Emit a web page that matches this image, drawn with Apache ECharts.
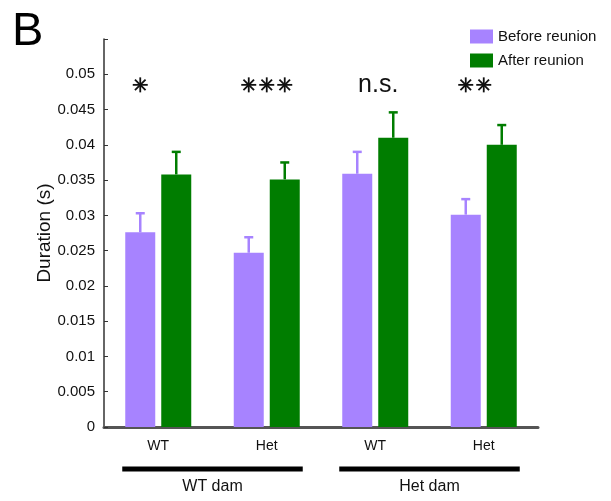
<!DOCTYPE html>
<html><head><meta charset="utf-8">
<script src="https://cdn.jsdelivr.net/npm/echarts@6/dist/echarts.min.js"></script>
<style>html,body{margin:0;padding:0;background:#fff}#c{width:611px;height:501px}</style>
</head><body><div id="c"></div>
<script>
const categories = ['WT', 'Het', 'WT', 'Het'];
const groups = ['WT dam', 'Het dam'];
const beforeMean = [0.0276, 0.0247, 0.0359, 0.0301];
const beforeErrTop = [0.0303, 0.0269, 0.0390, 0.0323];
const afterMean = [0.0358, 0.0351, 0.0410, 0.0400];
const afterErrTop = [0.0390, 0.0375, 0.0446, 0.0428];
const sigLabels = ['*', '***', 'n.s.', '**'];
const sigY = 0.0485;

const PURPLE = '#a783ff', GREEN = '#007d00';
const FONT = 'Liberation Sans, Arial, sans-serif';
const sigShift = [-18, 0, 3, -9];
const chart = echarts.init(document.getElementById('c'));

function errSeries(name, tops, means, color, side) {
  return {
    type: 'custom', name: name + ' err', silent: true, z: 3,
    data: tops.map((t, i) => [i, means[i], t]),
    renderItem: function (params, api) {
      const i = api.value(0);
      const p0 = api.coord([i, api.value(1)]);
      const p1 = api.coord([i, api.value(2)]);
      const x = p0[0] + side * 18;
      return {
        type: 'group', children: [
          { type: 'line', shape: { x1: x, y1: p0[1], x2: x, y2: p1[1] }, style: { stroke: color, lineWidth: 2.5 } },
          { type: 'line', shape: { x1: x - 4.5, y1: p1[1], x2: x + 4.5, y2: p1[1] }, style: { stroke: color, lineWidth: 2.5 } }
        ]
      };
    }
  };
}

function star(cx, cy, r) {
  const segs = [];
  for (let k = 0; k < 4; k++) {
    const a = k * Math.PI / 4;
    const dx = r * Math.cos(a), dy = r * Math.sin(a);
    segs.push({ type: 'line', shape: { x1: cx - dx, y1: cy - dy, x2: cx + dx, y2: cy + dy }, style: { stroke: '#111', lineWidth: 1.8 } });
  }
  return segs;
}

const option = {
  animation: false,
  grid: { left: 104, right: 73, top: 39, bottom: 74 },
  legend: {
    orient: 'vertical', left: 465, top: 24, itemWidth: 23, itemHeight: 14, itemGap: 9,
    data: ['Before reunion', 'After reunion'],
    textStyle: { fontFamily: FONT, fontSize: 15, color: '#111' }, icon: 'rect'
  },
  xAxis: {
    type: 'category', data: categories,
    axisLine: { lineStyle: { color: '#555', width: 3 } },
    axisTick: { alignWithLabel: true, inside: true, length: 4, lineStyle: { color: '#222', width: 1 } },
    axisLabel: { fontFamily: FONT, fontSize: 14, color: '#111', margin: 12 }
  },
  yAxis: {
    type: 'value', min: 0, max: 0.055, interval: 0.005,
    name: 'Duration (s)', nameLocation: 'middle', nameGap: 50, nameMoveOverlap: false,
    nameTextStyle: { fontFamily: FONT, fontSize: 19, color: '#111' },
    axisLine: { show: true, lineStyle: { color: '#333', width: 1.5 } },
    axisTick: { show: true, inside: true, length: 4, lineStyle: { color: '#333' } },
    splitLine: { show: false },
    axisLabel: {
      fontFamily: FONT, fontSize: 15, color: '#111', margin: 9,
      formatter: v => (Math.abs(v - 0.055) < 1e-9 ? '' : String(parseFloat(v.toFixed(3))))
    }
  },
  series: [
    { type: 'bar', name: 'Before reunion', data: beforeMean, barWidth: 30, barGap: '20%', itemStyle: { color: PURPLE } },
    { type: 'bar', name: 'After reunion', data: afterMean, barWidth: 30, itemStyle: { color: GREEN } },
    errSeries('Before reunion', beforeErrTop, beforeMean, PURPLE, -1),
    errSeries('After reunion', afterErrTop, afterMean, GREEN, 1),
    {
      type: 'custom', silent: true, z: 5,
      data: sigLabels.map((s, i) => [i, sigY]),
      renderItem: function (params, api) {
        const i = params.dataIndex;
        const p = api.coord([api.value(0), api.value(1)]);
        const cx = p[0] + sigShift[i], cy = p[1];
        const s = sigLabels[i];
        if (/^\*+$/.test(s)) {
          const n = s.length, sp = 18;
          let children = [];
          for (let k = 0; k < n; k++) children = children.concat(star(cx + (k - (n - 1) / 2) * sp, cy, 7.5));
          return { type: 'group', children };
        }
        return { type: 'text', x: cx, y: cy, style: { text: s, font: '25px Liberation Sans, Arial, sans-serif', fill: '#111', textAlign: 'center', textVerticalAlign: 'middle' } };
      }
    }
  ],
  graphic: [
    { type: 'text', left: 12, top: 9, style: { text: 'B', font: '47px Liberation Sans, Arial, sans-serif', fill: '#000' } }
  ]
};
chart.setOption(option);

// group brackets from axis scale
const g = [];
[[0, 1], [2, 3]].forEach((pair, k) => {
  const a = chart.convertToPixel({ xAxisIndex: 0 }, pair[0]);
  const b = chart.convertToPixel({ xAxisIndex: 0 }, pair[1]);
  const half = 36;
  g.push({ type: 'line', shape: { x1: a - half, y1: 469, x2: b + half, y2: 469 }, style: { stroke: '#000', lineWidth: 5 } });
  g.push({ type: 'text', x: (a + b) / 2, y: 487, style: { text: groups[k], font: '16px Liberation Sans, Arial, sans-serif', fill: '#111', textAlign: 'center', textVerticalAlign: 'middle' } });
});
chart.setOption({ graphic: option.graphic.concat(g) });
</script></body></html>
